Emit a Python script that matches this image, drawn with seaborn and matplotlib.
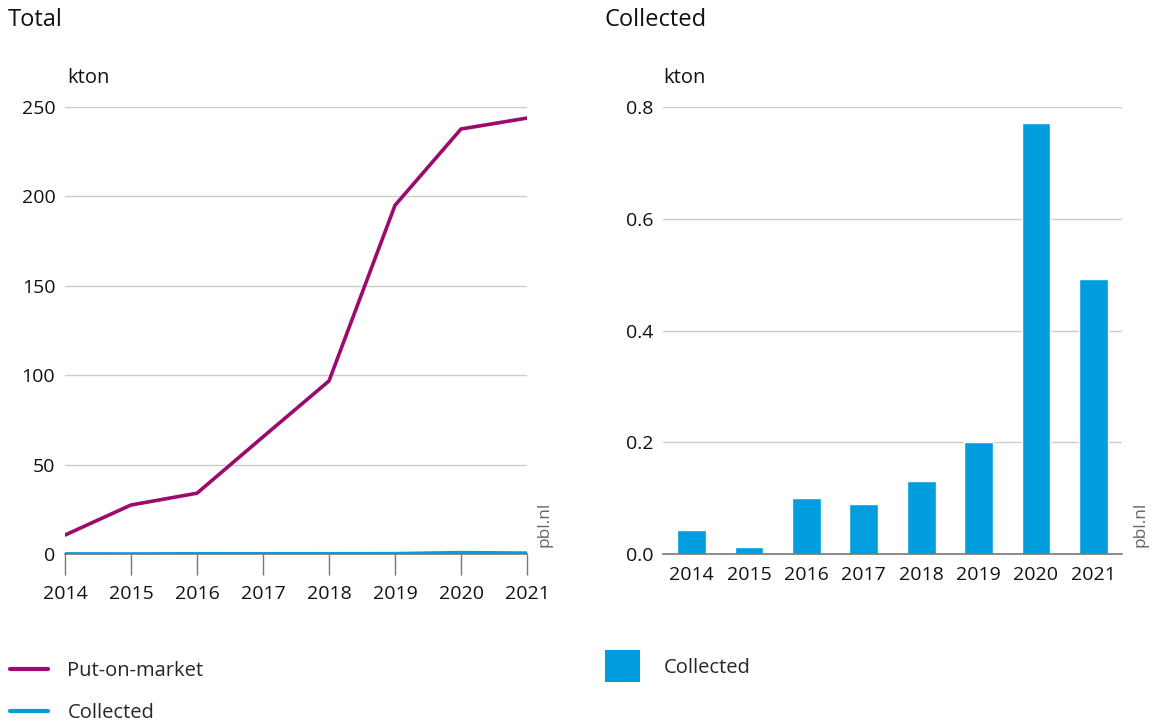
import matplotlib
matplotlib.use("Agg")
import matplotlib.pyplot as plt
import seaborn as sns
import pandas as pd
from matplotlib.lines import Line2D
from matplotlib.patches import Patch

# data (kton)
years = [2014, 2015, 2016, 2017, 2018, 2019, 2020, 2021]
put_on_market = [10.6, 27.4, 34.0, 65.5, 96.8, 195.0, 237.7, 243.8]
collected = [0.043, 0.013, 0.100, 0.089, 0.130, 0.200, 0.771, 0.492]

purple = "#9c0a6e"
blue = "#009ddf"
grid_col = "#cccccc"
axis_col = "#777777"

sns.set_theme(style="white")
plt.rcParams["font.family"] = ["Open Sans", "DejaVu Sans"]

fig = plt.figure(figsize=(11.53, 7.21), dpi=100)
ax1 = fig.add_axes([65 / 1153, 1 - 554 / 721, 462 / 1153, 447 / 721])
ax2 = fig.add_axes([663 / 1153, 1 - 554 / 721, 459 / 1153, 447 / 721])

# left: lines
df_lines = pd.DataFrame({
    "year": years * 2,
    "kton": put_on_market + collected,
    "serie": ["Put-on-market"] * len(years) + ["Collected"] * len(years),
})
sns.lineplot(data=df_lines, x="year", y="kton", hue="serie",
             palette={"Put-on-market": purple, "Collected": blue},
             linewidth=2.6, legend=False, ax=ax1, zorder=3)
ax1.set_xlim(2014, 2021)
ax1.set_ylim(0, 250)
ax1.set_yticks([0, 50, 100, 150, 200, 250])
ax1.set_xticks(years)

# right: bars
df_bars = pd.DataFrame({"year": [str(y) for y in years], "kton": collected})
sns.barplot(data=df_bars, x="year", y="kton", color=blue, saturation=1,
            width=0.5, ax=ax2, zorder=3)
ax2.set_xlim(-0.5, 7.5)
ax2.set_ylim(0, 0.8)
ax2.set_yticks([0.0, 0.2, 0.4, 0.6, 0.8])
ax2.set_yticklabels(["0.0", "0.2", "0.4", "0.6", "0.8"])

for ax in (ax1, ax2):
    ax.set_xlabel("")
    ax.set_ylabel("")
    for s in ("top", "right", "left"):
        ax.spines[s].set_visible(False)
    ax.spines["bottom"].set_color(axis_col)
    ax.spines["bottom"].set_linewidth(1.2)
    ax.spines["bottom"].set_zorder(4)
    ax.grid(axis="y", color=grid_col, linewidth=1)
    ax.set_axisbelow(True)
    ax.tick_params(axis="y", length=0, labelsize=14, pad=7, labelcolor="#111111")
    ax.tick_params(axis="x", labelsize=14, labelcolor="#111111")

ax1.tick_params(axis="x", bottom=True, length=15, color=axis_col, width=1, pad=7)
ax2.tick_params(axis="x", bottom=False, length=0, pad=9)

# titles, units, source
fig.text(8 / 1153, 1 - 20 / 721, "Total", fontsize=17, va="center", ha="left", color="#111111")
fig.text(604 / 1153, 1 - 20 / 721, "Collected", fontsize=17, va="center", ha="left", color="#111111")
fig.text(67 / 1153, 1 - 78 / 721, "kton", fontsize=14.5, va="center", ha="left", color="#111111")
fig.text(663 / 1153, 1 - 78 / 721, "kton", fontsize=14.5, va="center", ha="left", color="#111111")
for x in (545, 1140):
    fig.text(x / 1153, 1 - 547 / 721, "pbl.nl", fontsize=12.5, rotation=90,
             va="bottom", ha="center", color="#666666")

# legends
h_left = [Line2D([], [], color=purple, linewidth=3),
          Line2D([], [], color=blue, linewidth=3)]
fig.legend(h_left, ["Put-on-market", "Collected"], loc="upper left",
           bbox_to_anchor=(10 / 1153, 1 - 661 / 721), frameon=False, fontsize=14.5,
           handlelength=1.9, handletextpad=0.95, labelspacing=1.1,
           borderaxespad=0, borderpad=0)
h_right = [Patch(facecolor=blue, edgecolor="none")]
fig.legend(h_right, ["Collected"], loc="upper left",
           bbox_to_anchor=(605 / 1153, 1 - 650 / 721), frameon=False, fontsize=14.5,
           handlelength=1.75, handleheight=2.1, handletextpad=1.15,
           borderaxespad=0, borderpad=0)

fig.savefig("out.png", dpi=100)
